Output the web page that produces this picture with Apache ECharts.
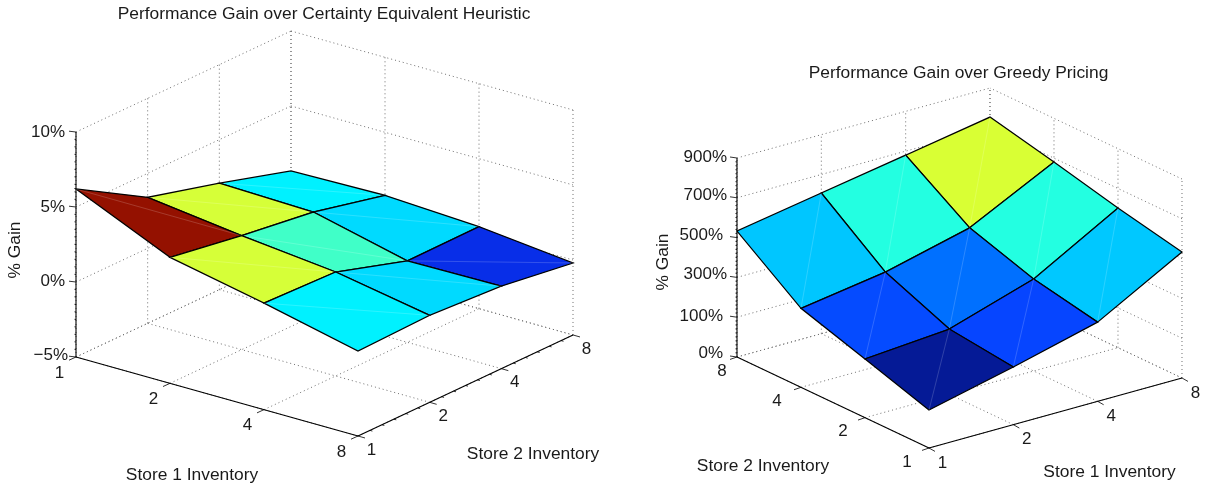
<!DOCTYPE html>
<html><head><meta charset="utf-8">
<style>html,body{margin:0;padding:0;background:#fff}#c{width:1209px;height:487px}</style>
<script src="https://cdn.jsdelivr.net/npm/echarts@6/dist/echarts.min.js"></script>
</head><body><div id="c"></div>
<script>
// ---- data ----
const store1Ticks = ['1', '2', '4', '8'];
const store2Ticks = ['1', '2', '4', '8'];
// rows: store 1 inventory index, columns: store 2 inventory index
const gainCertainty = [
  [6.2, 3.4, 2.1, 0.67],
  [3.4, 2.6, 1.93, 0.8],
  [2.1, 1.93, 0.43, 0.47],
  [0.67, 0.8, 0.5, -0.2]
];
const gainGreedy = [
  [91, 195, 297, 533],
  [190, 228, 362, 607],
  [298, 362, 467, 680],
  [533, 602, 681, 754]
];
const certaintyZTicks = [-5, 0, 5, 10];
const certaintyZLabels = ['\u22125%', '0%', '5%', '10%'];
const greedyZTicks = [-100, 100, 300, 500, 700, 900];
const greedyZLabels = ['0%', '100%', '300%', '500%', '700%', '900%'];
const jetColors = ['#051a96', '#0528c8', '#0a33ff', '#0062ff', '#0090ff', '#00c8ff', '#00ffff', '#40ffc8', '#80ff80', '#d6ff38', '#ffff00', '#ffc000', '#ff8000', '#ff5000', '#ff2600', '#c81a00', '#941100'];

// ---- views (layout only) ----
const FONT = '"Liberation Sans", Arial, sans-serif';
const views = [{
  title: 'Performance Gain over Certainty Equivalent Heuristic', titlePos: [324, 14.5],
  grid: gainCertainty, zTicks: certaintyZTicks, zLabels: certaintyZLabels,
  origin: [76, 357], iStep: [94, 26.33], jStep: [71.67, -33.67], zSpan: 225,
  backI: 0, backJ: 3, iOrder: [0, 1, 2],
  zAxisAt: [0, 0], iAxisJ: 0, jAxisI: 3,
  iStub: [-7, 3.2], jStub: [7, 2], zStub: [-7, -0.8],
  iLabel: [-16.5, 16], jLabel: [13.5, 14], zLabelX: 65, zLabelNudge: [[3, -1.5], [0, -0.5], [0, 0.5], [0, 0.5]],
  iLabelNudge: [[0, 0], [0, 0], [0, 0], [0, 0]], jLabelNudge: [[0, 0], [0, 0], [0, 0], [0, 0]],
  jMinor: 6, iMinor: 1, zMinor: 10,
  iName: [192, 475.5], jName: [533, 454.5], zName: [15, 250]
}, {
  title: 'Performance Gain over Greedy Pricing', titlePos: [958.5, 73.5],
  grid: gainGreedy, zTicks: greedyZTicks, zLabels: greedyZLabels,
  origin: [929, 448], iStep: [84.33, -23.33], jStep: [-64, -30.33], zSpan: 199,
  backI: 3, backJ: 3, iOrder: [2, 1, 0],
  zAxisAt: [0, 3], iAxisJ: 0, jAxisI: 0,
  iStub: [6, 3.4], jStub: [-7, 2.4], zStub: [-7, -1],
  iLabel: [13.5, 15], jLabel: [-22, 14], zLabelX: 727,
  zLabelNudge: [[-4, -3.5], [-4, -0.5], [0, -3.5], [-4, -2.5], [0, -2.5], [0, -0.5]],
  iLabelNudge: [[0, 0], [0, 0], [0, 0], [0, 0]], jLabelNudge: [[0, 0], [0, 0], [-2, 0], [7, 0]],
  jMinor: 1, iMinor: 1, zMinor: 10,
  iName: [1109.5, 472.5], jName: [763, 466.5], zName: [663, 262]
}];

function allZ(v) { return v.grid.reduce((a, r) => a.concat(r), []); }
function projector(v) {
  const zMin = v.zTicks[0], zMax = v.zTicks[v.zTicks.length - 1];
  return (i, j, z) => [
    v.origin[0] + i * v.iStep[0] + j * v.jStep[0],
    v.origin[1] + i * v.iStep[1] + j * v.jStep[1] - (z - zMin) / (zMax - zMin) * v.zSpan
  ];
}
function segments(v) { // dotted walls and floor, in data space
  const zMin = v.zTicks[0], zMax = v.zTicks[v.zTicks.length - 1], out = [];
  [0, 1, 2, 3].forEach(k => {
    out.push([k, v.backJ, zMin, k, v.backJ, zMax]);
    out.push([v.backI, k, zMin, v.backI, k, zMax]);
    out.push([k, 0, zMin, k, 3, zMin]);
    out.push([0, k, zMin, 3, k, zMin]);
  });
  v.zTicks.forEach(z => {
    out.push([0, v.backJ, z, 3, v.backJ, z]);
    out.push([v.backI, 0, z, v.backI, 3, z]);
  });
  return out;
}
function faces(v) {
  const out = [], g = v.grid;
  [2, 1, 0].forEach(j => v.iOrder.forEach(i => {
    out.push([i, j, g[i][j], g[i + 1][j], g[i + 1][j + 1], g[i][j + 1]]);
  }));
  return out;
}
function axisSegments(v) {
  const zMin = v.zTicks[0], zMax = v.zTicks[v.zTicks.length - 1];
  return [
    [0, v.iAxisJ, zMin, 3, v.iAxisJ, zMin],
    [v.jAxisI, 0, zMin, v.jAxisI, 3, zMin],
    [v.zAxisAt[0], v.zAxisAt[1], zMin, v.zAxisAt[0], v.zAxisAt[1], zMax]
  ];
}
function tickStubs(v) { // [i, j, z, dx, dy]
  const zMin = v.zTicks[0], out = [];
  [0, 1, 2, 3].forEach(k => {
    out.push([k, v.iAxisJ, zMin, v.iStub[0], v.iStub[1]]);
    out.push([v.jAxisI, k, zMin, v.jStub[0], v.jStub[1]]);
  });
  v.zTicks.forEach(z => out.push([v.zAxisAt[0], v.zAxisAt[1], z, v.zStub[0], v.zStub[1]]));
  for (let k = 0; k < 3; k++) for (let m = 1; m < v.jMinor; m++) {
    out.push([v.jAxisI, k + m / v.jMinor, zMin, v.jStub[0] * 0.35, v.jStub[1] * 0.35]);
  }
  for (let k = 0; k < v.zTicks.length - 1; k++) for (let m = 1; m < v.zMinor; m++) {
    const z = v.zTicks[k] + (v.zTicks[k + 1] - v.zTicks[k]) * m / v.zMinor;
    out.push([v.zAxisAt[0], v.zAxisAt[1], z, v.zStub[0] * 0.22, v.zStub[1] * 0.22]);
  }
  return out;
}
function lineEl(a, b, style) {
  return { type: 'line', shape: { x1: a[0], y1: a[1], x2: b[0], y2: b[1] }, style, silent: true };
}
function textEl(text, x, y, align, size, rot) {
  return { type: 'text', x, y, rotation: rot || 0, silent: true,
    style: { text, x: 0, y: 0, align: align, verticalAlign: 'middle', font: size + 'px ' + FONT, fill: '#1a1a1a' } };
}

const series = [];
views.forEach(v => {
  const P = projector(v), zs = allZ(v), cMin = Math.min(...zs), cMax = Math.max(...zs);
  const base = { type: 'custom', coordinateSystem: 'cartesian2d', clip: false, silent: true, animation: false };
  series.push(Object.assign({}, base, {
    name: 'walls', z: 1, data: segments(v),
    renderItem: (p, api) => lineEl(
      api.coord(P(api.value(0), api.value(1), api.value(2))),
      api.coord(P(api.value(3), api.value(4), api.value(5))),
      { stroke: '#6f6f6f', lineWidth: 1, lineDash: [1, 3] })
  }));
  series.push(Object.assign({}, base, {
    name: 'axes', z: 2, data: axisSegments(v),
    renderItem: (p, api) => lineEl(
      api.coord(P(api.value(0), api.value(1), api.value(2))),
      api.coord(P(api.value(3), api.value(4), api.value(5))),
      { stroke: '#000', lineWidth: 1.1 })
  }));
  series.push(Object.assign({}, base, {
    name: 'ticks', z: 2, data: tickStubs(v),
    renderItem: (p, api) => {
      const a = api.coord(P(api.value(0), api.value(1), api.value(2)));
      return lineEl(a, [a[0] + api.value(3), a[1] + api.value(4)], { stroke: '#000', lineWidth: 0.8 });
    }
  }));
  series.push(Object.assign({}, base, {
    name: v.title, z: 3, data: faces(v),
    renderItem: (p, api) => {
      const i = api.value(0), j = api.value(1);
      const corners = [[i, j, 2], [i + 1, j, 3], [i + 1, j + 1, 4], [i, j + 1, 5]]
        .map(c => api.coord(P(c[0], c[1], api.value(c[2]))));
      const t = (api.value(2) - cMin) / (cMax - cMin);
      return { type: 'group', silent: true, children: [
        { type: 'polygon', shape: { points: corners }, silent: true,
          style: { fill: echarts.color.lerp(t, jetColors), stroke: '#000', lineWidth: 1.25, lineJoin: 'miter' } },
        lineEl(corners[0], corners[2], { stroke: 'rgba(255,255,255,0.25)', lineWidth: 0.7 })
      ] };
    }
  }));
  const labels = [];
  v.zTicks.forEach((z, k) => {
    const a = P(v.zAxisAt[0], v.zAxisAt[1], z);
    labels.push([v.zLabels[k], v.zLabelX + v.zLabelNudge[k][0], a[1] + v.zLabelNudge[k][1], 'right']);
  });
  store1Ticks.forEach((s, k) => {
    const a = P(k, v.iAxisJ, v.zTicks[0]);
    labels.push([s, a[0] + v.iLabel[0] + v.iLabelNudge[k][0], a[1] + v.iLabel[1] + v.iLabelNudge[k][1], 'center']);
  });
  store2Ticks.forEach((s, k) => {
    const a = P(v.jAxisI, k, v.zTicks[0]);
    labels.push([s, a[0] + v.jLabel[0] + v.jLabelNudge[k][0], a[1] + v.jLabel[1] + v.jLabelNudge[k][1], 'center']);
  });
  series.push(Object.assign({}, base, {
    name: 'tick labels', z: 4, data: labels,
    dimensions: [{ name: 'text', type: 'ordinal' }, 'x', 'y', { name: 'align', type: 'ordinal' }],
    renderItem: (p, api) => {
      const r = labels[p.dataIndex], c = api.coord([r[1], r[2]]);
      return textEl(r[0], c[0], c[1], r[3], 17);
    }
  }));
  const names = [
    ['Store 1 Inventory', v.iName, 0], ['Store 2 Inventory', v.jName, 0],
    ['% Gain', v.zName, Math.PI / 2], [v.title, v.titlePos, 0]
  ];
  series.push(Object.assign({}, base, {
    name: 'axis names', z: 4, data: names.map((n, k) => [k, n[1][0], n[1][1]]),
    renderItem: (p, api) => {
      const n = names[p.dataIndex], c = api.coord(n[1]);
      return textEl(n[0], c[0], c[1], 'center', 17.4, n[2]);
    }
  }));
});

const chart = echarts.init(document.getElementById('c'), null, { renderer: 'canvas' });
chart.setOption({
  animation: false,
  backgroundColor: '#fff',
  grid: { left: 0, right: 0, top: 0, bottom: 0 },
  xAxis: { type: 'value', min: 0, max: 1209, show: false },
  yAxis: { type: 'value', min: 0, max: 487, inverse: true, show: false },
  series
});
</script></body></html>
